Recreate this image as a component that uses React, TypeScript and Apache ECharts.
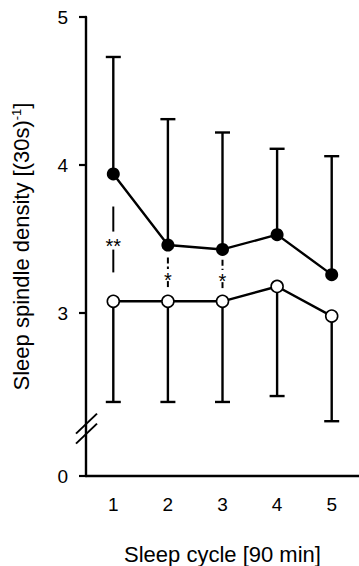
import React, { useEffect, useRef } from "react";
import * as echarts from "echarts";

// ---- data ----
const cycles = ["1", "2", "3", "4", "5"];
const filledMean = [3.94, 3.46, 3.43, 3.53, 3.26];
const filledUpper = [4.73, 4.31, 4.22, 4.11, 4.06];
const openMean = [3.08, 3.08, 3.08, 3.18, 2.98];
const openLower = [2.4, 2.4, 2.4, 2.44, 2.27];

// broken y axis: "0" is drawn at the bottom of the scale, below the break
const yTickValues = [1.9, 3, 4, 5];
const yTickLabels = ["0", "3", "4", "5"];
const yMin = 1.9;
const yMax = 5;
const breakValue = 2.22;

// significance markers between the two curves
const sigIndex = [0, 1, 2];
const sigLabels = ["**", "*", "*"];
const sigTop = [3.72, 3.375, 3.36];
const sigMid = [3.49, 3.257, 3.25];
const sigBottom = [3.275, 3.165, 3.155];
const sigDashed = [false, true, true];

const FONT = "'Liberation Sans', Arial, Helvetica, sans-serif";

export default function App() {
  const ref = useRef<HTMLDivElement>(null);

  useEffect(() => {
    if (!ref.current) return;
    const chart = echarts.init(ref.current, null, { renderer: "svg" });

    const errorBar = (params: any, api: any) => {
      const x = api.value(0);
      const p0 = api.coord([x, api.value(1)]);
      const p1 = api.coord([x, api.value(2)]);
      const hw = 7.5;
      return {
        type: "group",
        children: [
          {
            type: "line",
            shape: { x1: p0[0], y1: p0[1], x2: p1[0], y2: p1[1] },
            style: { stroke: "#000", lineWidth: 2.4 },
          },
          {
            type: "line",
            shape: { x1: p1[0] - hw, y1: p1[1], x2: p1[0] + hw, y2: p1[1] },
            style: { stroke: "#000", lineWidth: 2.4 },
          },
        ],
      };
    };

    const option: any = {
      animation: false,
      backgroundColor: "#fff",
      grid: {
        left: 86,
        right: 0,
        top: 17,
        bottom: 90,
        containLabel: false,
        outerBoundsMode: "none",
      },
      xAxis: {
        type: "category",
        data: cycles,
        boundaryGap: true,
        axisLine: { lineStyle: { color: "#000", width: 2.4 } },
        axisTick: {
          alignWithLabel: true,
          length: 7,
          lineStyle: { color: "#000", width: 2.2 },
        },
        axisLabel: {
          margin: 19,
          fontSize: 19,
          color: "#000",
          fontFamily: FONT,
        },
        splitLine: { show: false },
        name: "Sleep cycle [90 min]",
        nameLocation: "middle",
        nameGap: 67,
        nameTextStyle: { fontSize: 22, color: "#000", fontFamily: FONT },
      },
      yAxis: {
        type: "value",
        min: yMin,
        max: yMax,
        axisLine: { show: true, lineStyle: { color: "#000", width: 2.4 } },
        axisTick: {
          show: true,
          length: 7,
          customValues: yTickValues,
          lineStyle: { color: "#000", width: 2.2 },
        },
        axisLabel: {
          customValues: yTickValues,
          formatter: (v: number) => {
            let best = 0;
            yTickValues.forEach((t, i) => {
              if (Math.abs(t - v) < Math.abs(yTickValues[best] - v)) best = i;
            });
            return yTickLabels[best];
          },
          margin: 18,
          fontSize: 19,
          color: "#000",
          fontFamily: FONT,
        },
        splitLine: { show: false },
        name: "Sleep spindle density [(30s){sup|-1}]",
        nameLocation: "middle",
        nameGap: 54,
        nameTextStyle: {
          fontSize: 22,
          color: "#000",
          fontFamily: FONT,
          rich: {
            sup: {
              fontSize: 13,
              color: "#000",
              fontFamily: FONT,
              verticalAlign: "top",
            },
          },
        },
      },
      series: [
        {
          type: "custom",
          name: "filledErr",
          renderItem: errorBar,
          encode: { x: 0, y: [1, 2] },
          data: cycles.map((_, i) => [i, filledMean[i], filledUpper[i]]),
          z: 1,
          silent: true,
        },
        {
          type: "custom",
          name: "openErr",
          renderItem: errorBar,
          encode: { x: 0, y: [1, 2] },
          data: cycles.map((_, i) => [i, openMean[i], openLower[i]]),
          z: 1,
          silent: true,
        },
        {
          type: "line",
          name: "filled",
          data: filledMean,
          symbol: "circle",
          symbolSize: 13,
          itemStyle: { color: "#000", borderColor: "#000", borderWidth: 0 },
          lineStyle: { color: "#000", width: 2.4 },
          z: 3,
        },
        {
          type: "line",
          name: "open",
          data: openMean,
          symbol: "circle",
          symbolSize: 12,
          itemStyle: { color: "#fff", borderColor: "#000", borderWidth: 1.6 },
          lineStyle: { color: "#000", width: 2.4 },
          z: 3,
        },
        {
          type: "custom",
          name: "significance",
          encode: { x: 0, y: [1, 2, 3] },
          data: sigIndex.map((c, i) => [c, sigTop[i], sigMid[i], sigBottom[i]]),
          renderItem: (params: any, api: any) => {
            const i = params.dataIndex;
            const x = api.value(0);
            const top = api.coord([x, api.value(1)]);
            const mid = api.coord([x, api.value(2)]);
            const bot = api.coord([x, api.value(3)]);
            const gap = sigDashed[i] ? 6 : 9;
            const lineStyle: any = {
              stroke: "#000",
              lineWidth: 2,
              lineDash: sigDashed[i] ? [6, 3] : null,
            };
            return {
              type: "group",
              children: [
                {
                  type: "line",
                  shape: { x1: top[0], y1: top[1], x2: top[0], y2: mid[1] - gap },
                  style: lineStyle,
                },
                {
                  type: "line",
                  shape: { x1: bot[0], y1: mid[1] + gap, x2: bot[0], y2: bot[1] },
                  style: lineStyle,
                },
                {
                  type: "text",
                  x: mid[0],
                  y: mid[1] + 5,
                  style: {
                    text: sigLabels[i],
                    fill: "#000",
                    fontSize: 20,
                    fontFamily: FONT,
                    align: "center",
                    verticalAlign: "middle",
                  },
                },
              ],
            };
          },
          z: 2,
          silent: true,
        },
        {
          type: "custom",
          name: "axisBreak",
          encode: { x: 0, y: 1 },
          data: [[0, breakValue]],
          clip: false,
          renderItem: (params: any, api: any) => {
            const ax = params.coordSys.x;
            const c = api.coord([0, api.value(1)]);
            const cy = c[1];
            const mk = (dy: number) => ({
              type: "line",
              shape: { x1: ax - 10, y1: cy + dy + 10, x2: ax + 11, y2: cy + dy - 10 },
              style: { stroke: "#000", lineWidth: 2 },
            });
            return { type: "group", children: [mk(-5), mk(5)] };
          },
          z: 4,
          silent: true,
        },
      ],
    };

    chart.setOption(option);
    return () => chart.dispose();
  }, []);

  return (
    <div
      ref={ref}
      style={{ position: "fixed", left: 0, top: 0, width: 359, height: 566, background: "#fff" }}
    />
  );
}
